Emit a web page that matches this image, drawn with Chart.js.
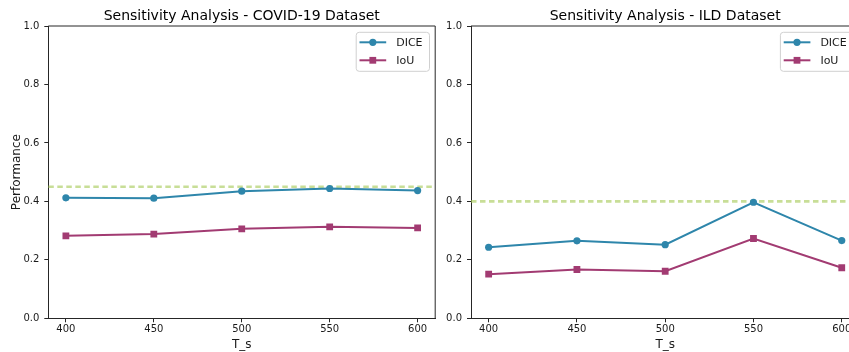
<!DOCTYPE html>
<html>
<head>
<meta charset="utf-8">
<script src="https://cdn.jsdelivr.net/npm/chart.js@4/dist/chart.umd.min.js"></script>
<style>
  html, body { margin: 0; padding: 0; background: #ffffff; overflow: hidden; width: 849px; height: 352px; }
  #wrap { position: relative; width: 849px; height: 352px; overflow: hidden; }
  canvas { position: absolute; top: 0; }
</style>
</head>
<body>
<div id="wrap">
  <canvas id="c1" width="440" height="352" style="left:0px"></canvas>
  <canvas id="c2" width="440" height="352" style="left:440px"></canvas>
</div>
<script>
// ---- data ----
const tsValues = [400, 450, 500, 550, 600];
const yTickValues = [0.0, 0.2, 0.4, 0.6, 0.8, 1.0];
const seriesLabels = ['DICE', 'IoU'];
const covidDice = [0.412, 0.411, 0.435, 0.444, 0.437];
const covidIoU = [0.282, 0.288, 0.306, 0.313, 0.309];
const covidThreshold = 0.45;
const ildDice = [0.243, 0.265, 0.252, 0.397, 0.266];
const ildIoU = [0.151, 0.167, 0.161, 0.273, 0.173];
const ildThreshold = 0.40;
const titles = ['Sensitivity Analysis - COVID-19 Dataset', 'Sensitivity Analysis - ILD Dataset'];
const xTitle = 'T_s';
const yTitle = 'Performance';

// ---- styles ----
const diceColor = '#2E86AB';
const iouColor = '#A23B72';
const threshColor = 'rgba(167,201,87,0.62)';
const axisColor = '#262626';
const textColor = '#1a1a1a';
Chart.defaults.font.family = "'DejaVu Sans', sans-serif";
Chart.defaults.color = textColor;

const thresholdPlugin = {
  id: 'thresholdLine',
  beforeDatasetsDraw(chart, args, opts) {
    const {ctx, chartArea, scales} = chart;
    const y = scales.y.getPixelForValue(opts.value);
    ctx.save();
    ctx.strokeStyle = threshColor;
    ctx.lineWidth = 2.6;
    ctx.setLineDash([5.5, 3.5]);
    ctx.beginPath();
    ctx.moveTo(chartArea.left, y);
    ctx.lineTo(chartArea.right, y);
    ctx.stroke();
    ctx.restore();
  }
};

const spinePlugin = {
  id: 'spines',
  afterDatasetsDraw(chart) {
    const {ctx, chartArea} = chart;
    ctx.save();
    ctx.strokeStyle = axisColor;
    ctx.lineWidth = 1;
    ctx.beginPath();
    ctx.moveTo(chartArea.left, chartArea.top);
    ctx.lineTo(chartArea.right, chartArea.top);
    ctx.lineTo(chartArea.right, chartArea.bottom);
    ctx.stroke();
    ctx.restore();
  }
};

const boxLegendPlugin = {
  id: 'boxLegend',
  afterDraw(chart) {
    const {ctx, chartArea} = chart;
    const R = chartArea.right;
    const left = R - 79, right = R - 5.7, top = 32.3, bottom = 71.3;
    ctx.save();
    ctx.fillStyle = 'rgba(255,255,255,0.8)';
    ctx.strokeStyle = '#d0d0d0';
    ctx.lineWidth = 1;
    ctx.beginPath();
    ctx.roundRect(left, top, right - left, bottom - top, 3);
    ctx.fill();
    ctx.stroke();
    const rows = [42.3, 60.3];
    chart.data.datasets.forEach((ds, i) => {
      const y = rows[i];
      ctx.strokeStyle = ds.borderColor;
      ctx.lineWidth = 2;
      ctx.setLineDash([]);
      ctx.beginPath();
      ctx.moveTo(R - 75.7, y);
      ctx.lineTo(R - 49, y);
      ctx.stroke();
      ctx.fillStyle = ds.borderColor;
      ctx.beginPath();
      if (ds.pointStyle === 'rect') {
        const s = ds.pointRadius * Math.SQRT1_2;
        ctx.rect(R - 62.4 - s, y - s, 2 * s, 2 * s);
      } else {
        ctx.arc(R - 62.4, y, ds.pointRadius, 0, Math.PI * 2);
      }
      ctx.fill();
      ctx.fillStyle = textColor;
      ctx.font = "11px 'DejaVu Sans'";
      ctx.textBaseline = 'middle';
      ctx.textAlign = 'left';
      ctx.fillText(ds.label, R - 39, y + 0.5);
    });
    ctx.restore();
  }
};

function makeChart(id, title, dice, iou, threshold, yAxisWidth, padRight, showYTitle) {
  const mk = arr => tsValues.map((x, i) => ({x: x, y: arr[i]}));
  return new Chart(document.getElementById(id), {
    type: 'line',
    data: {
      datasets: [
        {label: seriesLabels[0], data: mk(dice), borderColor: diceColor, backgroundColor: diceColor,
         pointBackgroundColor: diceColor, pointBorderColor: diceColor, pointBorderWidth: 0,
         pointStyle: 'circle', pointRadius: 3.6, borderWidth: 2, tension: 0, fill: false},
        {label: seriesLabels[1], data: mk(iou), borderColor: iouColor, backgroundColor: iouColor,
         pointBackgroundColor: iouColor, pointBorderColor: iouColor, pointBorderWidth: 0,
         pointStyle: 'rect', pointRadius: 4.8, borderWidth: 2, tension: 0, fill: false}
      ]
    },
    options: {
      responsive: false,
      animation: false,
      events: [],
      layout: {padding: {left: 0, right: padRight, top: 0, bottom: 0}},
      plugins: {
        legend: {display: false},
        tooltip: {enabled: false},
        title: {display: true, text: title, fullSize: false, color: '#000',
                font: {size: 14, weight: 'normal', lineHeight: 1.2}, padding: {top: 7.5, bottom: 1.7}},
        thresholdLine: {value: threshold}
      },
      scales: {
        x: {
          type: 'linear', min: 390, max: 610,
          afterBuildTicks: s => { s.ticks = tsValues.map(v => ({value: v})); },
          afterFit: s => { s.height = 33.7; },
          grid: {display: true, drawOnChartArea: false, drawTicks: true, tickLength: 4, color: axisColor, lineWidth: 1},
          border: {display: true, color: axisColor, width: 1},
          ticks: {font: {size: 10}, padding: 1.5, color: textColor, maxRotation: 0,
                  callback: v => String(v)},
          title: {display: true, text: xTitle, font: {size: 12}, color: textColor, padding: {top: 0, bottom: 0}}
        },
        y: {
          type: 'linear', min: 0, max: 1,
          afterBuildTicks: s => { s.ticks = yTickValues.map(v => ({value: v})); },
          afterFit: s => { s.width = yAxisWidth; },
          grid: {display: true, drawOnChartArea: false, drawTicks: true, tickLength: 4, color: axisColor, lineWidth: 1},
          border: {display: true, color: axisColor, width: 1},
          ticks: {font: {size: 10}, padding: 5, color: textColor, callback: v => Number(v).toFixed(1)},
          title: {display: showYTitle, text: yTitle, font: {size: 12}, color: textColor, padding: {top: 9.3, bottom: 0}}
        }
      }
    },
    plugins: [thresholdPlugin, spinePlugin, boxLegendPlugin]
  });
}

makeChart('c1', titles[0], covidDice, covidIoU, covidThreshold, 48.3, 3.3, true);
makeChart('c2', titles[1], ildDice, ildIoU, ildThreshold, 31, 20.6, false);
</script>
</body>
</html>
